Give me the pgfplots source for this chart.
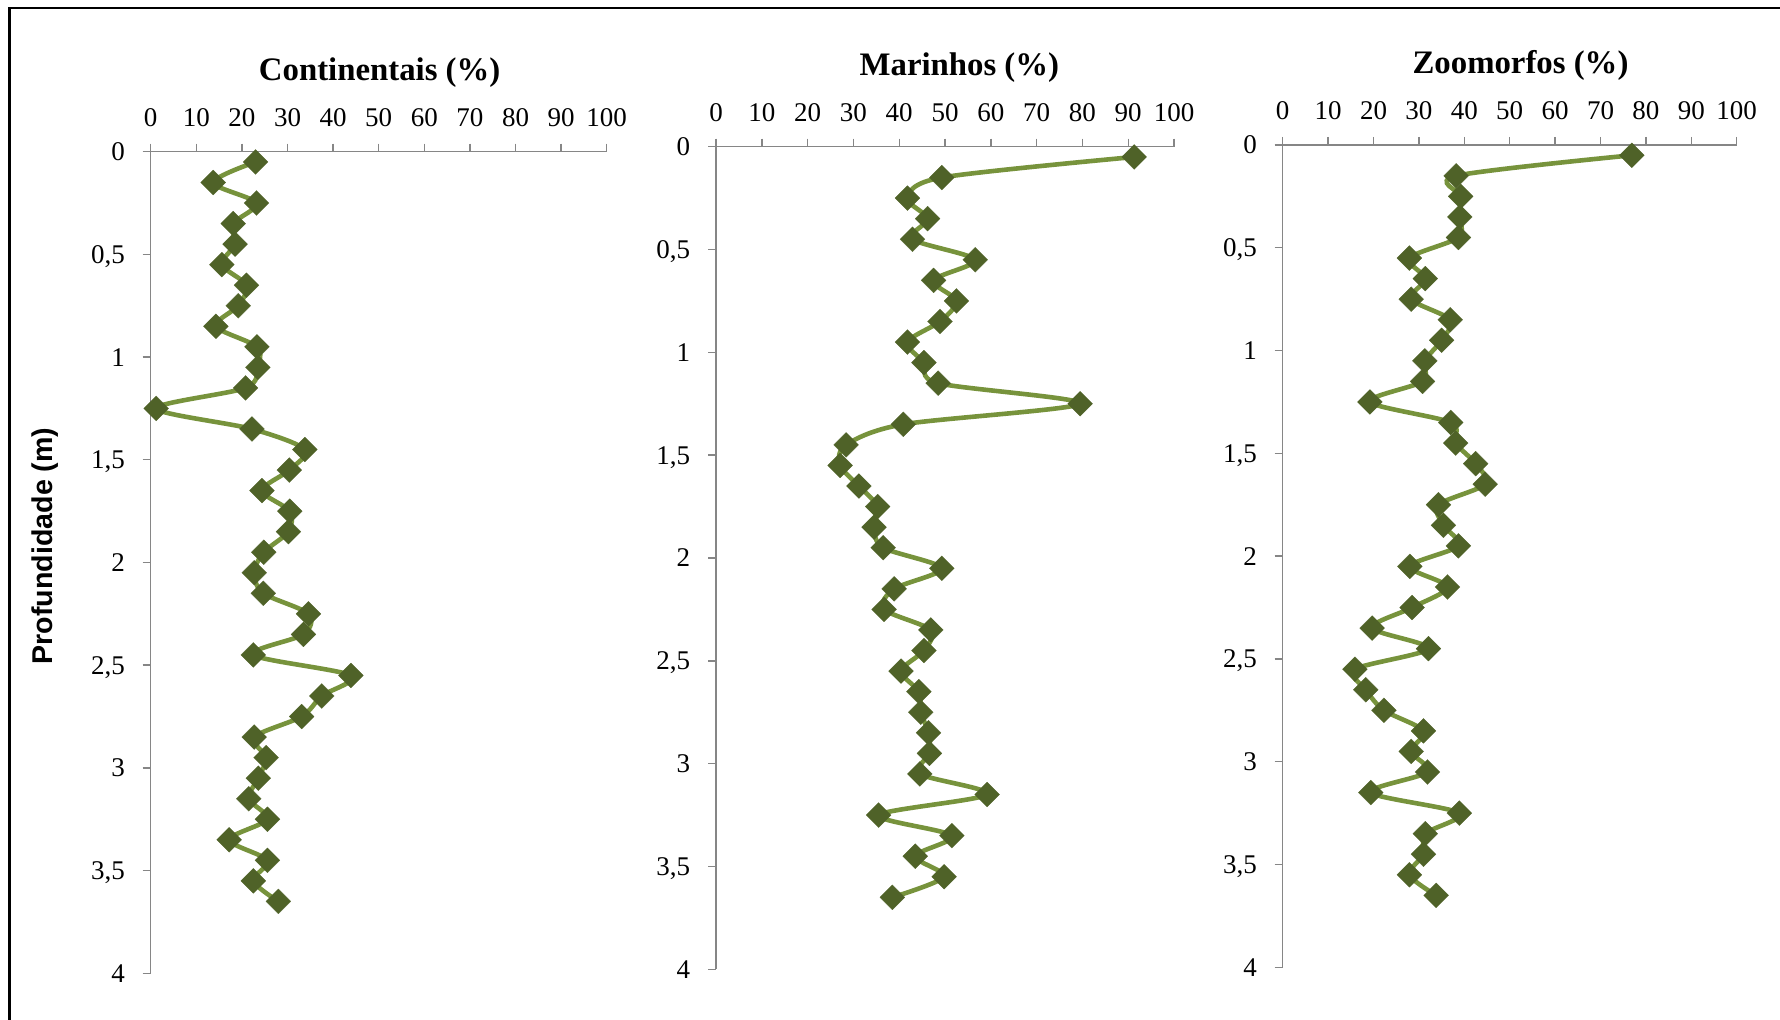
\documentclass[border=0pt]{standalone}
\usepackage{fontspec}
\setmainfont{Liberation Serif}
\newfontfamily\arialf{Liberation Sans}
\usepackage{pgfplots}
\usepackage{pgfplotstable}
\pgfplotsset{compat=1.18}
\definecolor{lineg}{HTML}{77933C}
\definecolor{markg}{HTML}{4F6228}
\definecolor{axg}{HTML}{868686}

\pgfplotstableread{
d c m z
0.05 23.0 91.3 76.9
0.15 13.7 49.3 38.2
0.25 23.2 41.8 39.2
0.35 18.1 46.2 39.0
0.45 18.5 42.9 38.7
0.55 15.6 56.6 27.9
0.65 21.0 47.5 31.4
0.75 19.2 52.5 28.3
0.85 14.3 48.9 36.9
0.95 23.3 41.8 35.0
1.05 23.5 45.4 31.3
1.15 20.8 48.5 30.8
1.25 1.2 79.5 19.2
1.35 22.2 40.9 37.0
1.45 33.8 28.4 38.1
1.55 30.4 27.1 42.5
1.65 24.4 31.2 44.6
1.75 30.5 35.3 34.3
1.85 30.2 34.5 35.4
1.95 24.8 36.5 38.7
2.05 22.7 49.3 28.0
2.15 24.7 38.9 36.3
2.25 34.6 36.7 28.5
2.35 33.5 46.9 19.7
2.45 22.5 45.4 32.1
2.55 43.9 40.4 15.9
2.65 37.5 44.3 18.3
2.75 33.1 44.7 22.3
2.85 22.7 46.4 31.0
2.95 25.3 46.6 28.3
3.05 23.6 44.5 31.9
3.15 21.5 59.2 19.4
3.25 25.6 35.5 38.9
3.35 17.2 51.5 31.4
3.45 25.6 43.5 31.0
3.55 22.5 49.8 27.9
3.65 28.0 38.5 33.8
}\data

\pgfplotsset{
  panel/.style={
    scale only axis,
    anchor=north west,
    xmin=0, xmax=100, ymin=0, ymax=4,
    y dir=reverse,
    axis x line*=top, axis y line*=left,
    axis line style={-, draw=axg, line width=0.7pt},
    xtick={0,10,...,100},
    xticklabels={0,10,20,30,40,50,60,70,80,90,100},
    ytick={0,0.5,...,4},
    yticklabels={0,{0,5},1,{1,5},2,{2,5},3,{3,5},4},
    tick align=outside,
    major tick length=4pt,
    every tick/.style={draw=axg, line width=0.7pt},
    tick label style={font=\fontsize{13.5}{14}\selectfont},
    xticklabel style={anchor=base, yshift=8.6pt},
    yticklabel style={anchor=east, inner sep=0pt, text height=9pt, text depth=0pt, xshift=-8.7pt},
    title style={font=\fontsize{16.4}{18}\selectfont\bfseries, at={(axis description cs:0.5,1)}, anchor=base, yshift=29.5pt},
    clip=false,
  },
  serie/.style={color=lineg, line width=2.3pt, smooth, tension=0.5,
    mark=square*, mark size=4.4pt,
    mark options={rotate=45, fill=markg, draw=markg, line width=0.1pt}},
}

\begin{document}
\begin{tikzpicture}
\useasboundingbox (0,0) rectangle (890pt,510pt);
\fill[white] (0,0) rectangle (890pt,510pt);
\draw[line width=1.3pt, black] (4.65pt,0) -- (4.65pt,506pt) -- (890pt,506pt);

\begin{axis}[panel, at={(75.35pt,434.15pt)}, width=228pt, height=410.8pt,
  title={Continentais (\%)}, title style={xshift=0.5pt}]
\addplot[serie] table[x=c, y=d] {\data};
\end{axis}

\begin{axis}[panel, at={(358pt,436.65pt)}, width=229pt, height=411.3pt,
  title={Marinhos (\%)}, title style={xshift=7.2pt}]
\addplot[serie] table[x=m, y=d] {\data};
\end{axis}

\begin{axis}[panel, at={(641.35pt,437.5pt)}, width=227pt, height=411.15pt,
  title={Zoomorfos (\%)}, title style={xshift=5.4pt}]
\addplot[serie] table[x=z, y=d] {\data};
\end{axis}

\node[rotate=90, font=\arialf\bfseries\fontsize{14.3}{16}\selectfont] at (22.7pt,237pt) {Profundidade (m)};
\end{tikzpicture}
\end{document}
